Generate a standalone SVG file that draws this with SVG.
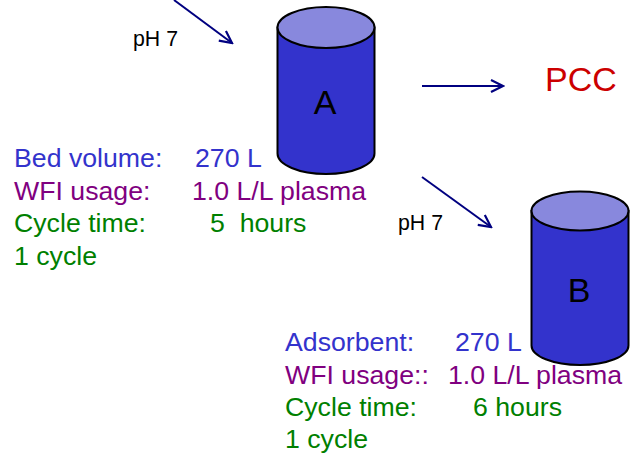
<svg xmlns="http://www.w3.org/2000/svg" width="631" height="453" viewBox="0 0 631 453">
<style>
text{font-family:"Liberation Sans",Arial,sans-serif}
.t{font-size:26.7px}
.s{font-size:21.3px;fill:#000}
.big{font-size:34px}
.blue{fill:#3333CC}
.pur{fill:#800080}
.grn{fill:#008000}
.body{fill:#3333CC;stroke:#000;stroke-width:2}
.cap{fill:#8888DD;stroke:#000;stroke-width:2}
.arr{stroke:#000080;stroke-width:2;fill:none;marker-end:url(#ah)}
</style>
<defs>
<marker id="ah" markerUnits="userSpaceOnUse" markerWidth="16" markerHeight="14" refX="14" refY="7" orient="auto">
<path d="M2,1 L14,7 L2,13" fill="none" stroke="#000080" stroke-width="2.2"/>
</marker>
</defs>
<g id="connectors">
<line class="arr" x1="174" y1="0" x2="232" y2="43"/>
<line class="arr" x1="422" y1="86" x2="503" y2="86"/>
<line class="arr" x1="422" y1="177" x2="491" y2="227"/>
</g>
<g id="cylA">
<path class="body" d="M277.5,27.5 V153.5 A48.5,20.5 0 0 0 374.5,153.5 V27.5 Z"/>
<ellipse class="cap" cx="326" cy="27.5" rx="48.5" ry="20.5"/>
<text class="big" x="325" y="114" text-anchor="middle" fill="#000">A</text>
</g>
<g id="cylB">
<path class="body" d="M531.5,211 V345.5 A48.5,19.5 0 0 0 628.5,345.5 V211 Z"/>
<ellipse class="cap" cx="580" cy="211" rx="48.5" ry="19.5"/>
<text class="big" x="579" y="302" text-anchor="middle" fill="#000">B</text>
</g>
<g id="pcc">
<text class="big" x="545" y="91" fill="#CC0000">PCC</text>
</g>
<g id="ph1"><text class="s" x="133" y="46">pH 7</text></g>
<g id="ph2"><text class="s" x="398" y="230">pH 7</text></g>
<g id="infoA">
<text class="t blue" x="14" y="167">Bed volume:</text>
<text class="t blue" x="195" y="167">270 L</text>
<text class="t pur" x="14" y="199.5">WFI usage:</text>
<text class="t pur" x="192" y="199.5">1.0 L/L plasma</text>
<text class="t grn" x="14" y="232">Cycle time:</text>
<text class="t grn" x="210" y="232" xml:space="preserve">5  hours</text>
<text class="t grn" x="14" y="264.5">1 cycle</text>
</g>
<g id="infoB">
<text class="t blue" x="285" y="351">Adsorbent:</text>
<text class="t blue" x="455" y="351">270 L</text>
<text class="t pur" x="285" y="383.5">WFI usage::</text>
<text class="t pur" x="448" y="383.5">1.0 L/L plasma</text>
<text class="t grn" x="285" y="416">Cycle time:</text>
<text class="t grn" x="473" y="416">6 hours</text>
<text class="t grn" x="285" y="448">1 cycle</text>
</g>
</svg>
